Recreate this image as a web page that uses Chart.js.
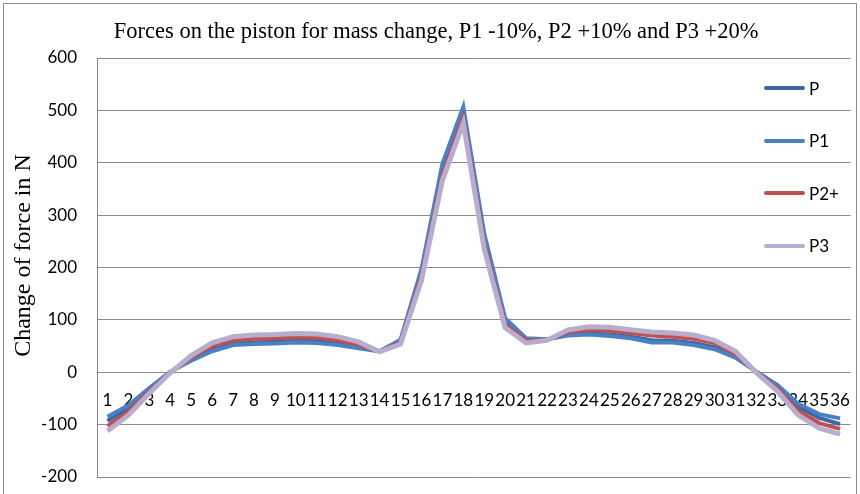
<!DOCTYPE html>
<html lang="en">
<head>
  <meta charset="UTF-8" />
  <title>Forces on the piston</title>
  <script src="https://cdn.jsdelivr.net/npm/chart.js"></script>
  <style>
    body {
      margin: 0;
      background: #fff;
    }

    .wrap {
      position: relative;
      width: 860px;
      height: 494px;
    }

    .legend {
      position: absolute;
      left: 764px;
      top: 62px;
      font-family: Lato, sans-serif;
      font-size: 17px;
      color: #000;
    }

    .legend-item {
      display: flex;
      align-items: center;
      height: 52.5px;
    }

    .legend-line {
      width: 41px;
      height: 4px;
      border-radius: 2px;
      margin-right: 4px;
    }
  </style>
</head>
<body>
  <div class="wrap">
    <canvas id="forceChart"></canvas>
    <div class="legend" id="forceLegend"></div>
  </div>

  <script>
    // categories (crank positions) and the four series
    const positions = ['1', '2', '3', '4', '5', '6', '7', '8', '9', '10', '11', '12',
      '13', '14', '15', '16', '17', '18', '19', '20', '21', '22', '23', '24',
      '25', '26', '27', '28', '29', '30', '31', '32', '33', '34', '35', '36'];

    const seriesP = [-93, -68, -33, 0, 25, 45, 55, 57, 58, 60, 59, 55,
      49, 40, 60, 192, 390, 500, 258, 98, 63, 62, 73, 75,
      72, 68, 61, 60, 56, 48, 31, 1, -27, -66, -87, -99];
    const seriesP1 = [-85, -63, -30, 1, 22, 40, 52, 54, 55, 57, 56, 52,
      46, 40, 62, 197, 398, 507, 265, 103, 65, 63, 70, 72,
      69, 65, 57, 57, 52, 44, 28, 1, -24, -60, -80, -88];
    const seriesP2 = [-103, -75, -36, -1, 28, 50, 61, 64, 65, 67, 66, 61,
      53, 39, 57, 183, 376, 487, 245, 91, 60, 62, 77, 81,
      79, 75, 70, 68, 64, 56, 35, 0, -31, -74, -97, -108];
    const seriesP3 = [-112, -82, -40, -1, 32, 56, 68, 71, 72, 74, 73, 68,
      58, 39, 54, 175, 366, 476, 235, 85, 56, 61, 81, 87,
      86, 81, 77, 75, 71, 61, 40, -1, -36, -82, -107, -118];

    const seriesNames = ['P', 'P1', 'P2+', 'P3'];
    const seriesColors = ['#3D68A5', '#4A80C4', '#C0504D', '#B8ADCF'];
    const yMin = -200;
    const yMax = 600;
    const yStep = 100;

    // grey frame round the whole chart, like the spreadsheet export
    const frame = {
      id: 'frame',
      afterDraw(chart) {
        const ctx = chart.ctx;
        ctx.save();
        ctx.strokeStyle = '#8c8c8c';
        ctx.lineWidth = 1;
        ctx.strokeRect(3.5, 3.5, 853, 520);
        ctx.restore();
      }
    };

    const allSeries = [seriesP, seriesP1, seriesP2, seriesP3];
    const datasets = allSeries.map((values, i) => ({
      label: seriesNames[i],
      data: values,
      borderColor: seriesColors[i],
      backgroundColor: seriesColors[i],
      borderWidth: i === 3 ? 5 : 4,
      pointRadius: 0,
      tension: 0,
      order: 4 - i
    }));

    const ctx = document.getElementById('forceChart').getContext('2d');
    new Chart(ctx, {
      type: 'line',
      data: { labels: positions, datasets: datasets },
      plugins: [frame],
      options: {
        responsive: true,
        maintainAspectRatio: false,
        animation: false,
        layout: { padding: { left: 4, right: 3, top: 0, bottom: 17 } },
        plugins: {
          legend: { display: false },
          tooltip: { enabled: false },
          title: {
            display: true,
            // leading spaces nudge the title a little right, as in the original
            text: '  Forces on the piston for mass change, P1 -10%, P2 +10% and P3 +20%',
            color: '#000',
            font: { family: 'Liberation Serif', size: 22.5, weight: 'normal' },
            padding: { top: 19, bottom: 12 }
          }
        },
        scales: {
          x: {
            type: 'category',
            position: { y: 0 },
            offset: true,
            grid: { display: false },
            border: { display: false },
            ticks: {
              autoSkip: false,
              maxRotation: 0,
              minRotation: 0,
              padding: 10,
              color: '#000',
              font: { family: 'Lato', size: 17 }
            }
          },
          y: {
            min: yMin,
            max: yMax,
            // invisible tick marks keep the labels 20px off the axis
            grid: { color: '#8a8a8a', drawTicks: true, tickLength: 20, tickColor: 'rgba(0,0,0,0)' },
            border: { display: true, color: '#8a8a8a' },
            ticks: {
              stepSize: yStep,
              padding: 0,
              color: '#000',
              font: { family: 'Lato', size: 17 }
            },
            title: {
              display: true,
              text: '    Change of force in N',
              color: '#000',
              font: { family: 'Liberation Serif', size: 24, weight: 'normal' },
              padding: { top: 5, bottom: 0 }
            },
            afterFit(scale) {
              scale.width = 93;
            }
          }
        }
      }
    });

    // legend drawn as html, inside the plot on the right
    const legend = document.getElementById('forceLegend');
    seriesNames.forEach((name, i) => {
      const item = document.createElement('div');
      item.className = 'legend-item';

      const line = document.createElement('span');
      line.className = 'legend-line';
      line.style.backgroundColor = seriesColors[i];

      item.appendChild(line);
      item.appendChild(document.createTextNode(name));
      legend.appendChild(item);
    });
  </script>
</body>
</html>
